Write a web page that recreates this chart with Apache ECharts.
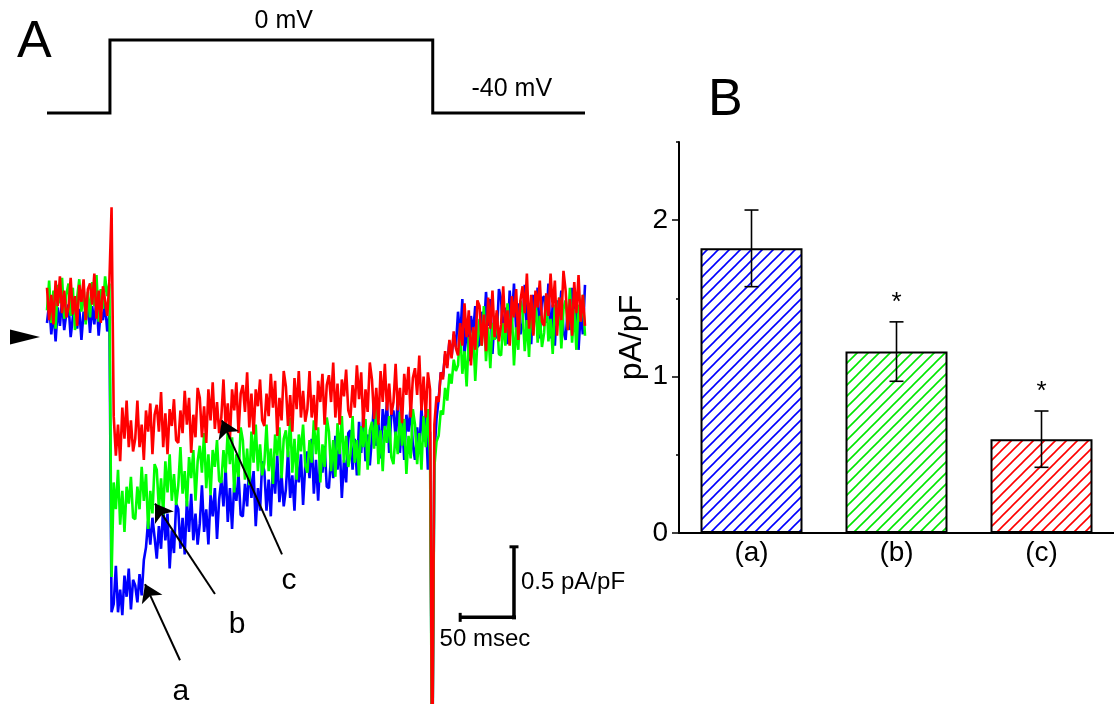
<!DOCTYPE html>
<html><head><meta charset="utf-8">
<script src="https://cdn.jsdelivr.net/npm/echarts@6/dist/echarts.min.js"></script>
<style>html,body{margin:0;padding:0;background:#fff}#chart{width:1114px;height:704px}</style>
</head><body><div id="chart"></div>
<script>
// ---------- DATA ----------
const SAMPLE_MS = 2; // traces sampled every 2 ms, starting at t = 0

// Current traces (pA/pF)
const traceBlue = [
0.10,0.24,0.02,0.19,-0.03,0.21,0.08,0.26,0.05,0.17,0.23,0.00,0.14,0.27,0.06,0.20,-0.02,0.18,0.11,0.25,0.03,0.22,0.09,0.28,0.01,0.19,0.12,0.24,0.04,0.15,
-1.95,
-1.89,-1.62,-1.95,-1.79,-1.97,-1.69,-1.84,-1.64,-1.93,-1.72,
-1.76,-1.88,-1.68,-1.83,-1.58,-1.49,-1.30,-1.47,-1.28,-1.42,
-1.57,-1.34,-1.50,-1.20,-1.44,-1.25,-1.64,-1.37,-1.53,-1.18,
-1.22,-1.50,-1.28,-1.54,-1.16,-1.38,-1.11,-1.44,-1.25,-1.47,
-1.32,-1.05,-1.38,-1.22,-1.47,-1.12,-1.27,-1.07,-1.43,-1.15,
-1.01,-1.20,-0.92,-1.31,-1.07,-1.36,-1.04,-1.16,-0.97,-1.26,
-1.27,-1.04,-1.20,-0.90,-1.14,-0.95,-1.34,-1.07,-1.23,-0.88,
-0.95,-1.23,-1.01,-1.27,-0.89,-1.11,-0.84,-1.17,-0.98,-1.20,
-1.08,-0.81,-1.14,-0.98,-1.23,-0.88,-1.03,-0.83,-1.19,-0.91,
-0.81,-1.00,-0.72,-1.11,-0.87,-1.16,-0.84,-0.96,-0.77,-1.06,
-1.07,-0.84,-1.00,-0.70,-0.94,-0.75,-1.14,-0.87,-1.03,-0.68,
-0.66,-0.94,-0.72,-0.98,-0.60,-0.82,-0.55,-0.88,-0.69,-0.91,
-0.71,-0.44,-0.77,-0.61,-0.86,-0.51,-0.66,-0.46,-0.82,-0.54,
-0.52,-0.71,-0.43,-0.82,-0.58,-0.87,-0.55,-0.67,-0.48,-0.77,
-0.87,-0.64,-0.80,-0.50,-0.74,-0.55,-0.94,-0.67,
-3.2,
-0.84,-0.58,-0.44,-0.25,-0.28,-0.12,-0.20,-0.03,-0.14,0.02,-0.07,
0.18,-0.01,0.27,-0.12,0.12,-0.17,0.15,0.03,0.22,-0.07,
-0.05,0.18,0.02,0.32,0.08,0.27,-0.12,0.15,-0.01,0.34,
0.27,-0.01,0.21,-0.05,0.33,0.11,0.38,0.05,0.24,0.02,
0.10,0.37,0.04,0.20,-0.05,0.30,0.15,0.35,-0.01,0.27,
0.29,0.10,0.38,-0.01,0.23,-0.06,0.26,0.14,0.33,0.04,
-0.02,0.21,0.05,0.35,0.11,0.30,-0.09,0.18,0.02,0.37
];
const traceGreen = [
0.19,0.40,0.10,0.33,0.06,0.37,0.24,0.42,0.13,0.30,0.38,0.15,0.35,0.05,0.28,0.41,0.18,0.36,0.09,0.32,0.14,0.39,0.22,0.44,0.11,0.34,0.20,0.43,0.29,0.38,
-1.70,
-1.03,-1.22,-0.94,-1.33,-1.09,-1.38,-1.06,-1.18,-0.99,-1.28,
-1.29,-1.06,-1.22,-0.92,-1.16,-0.97,-1.36,-1.09,-1.25,-0.90,
-0.94,-1.22,-1.00,-1.26,-0.88,-1.10,-0.83,-1.16,-0.97,-1.19,
-1.05,-0.78,-1.11,-0.95,-1.20,-0.85,-1.00,-0.80,-1.16,-0.88,
-0.77,-0.96,-0.68,-1.07,-0.83,-1.12,-0.80,-0.92,-0.73,-1.02,
-1.03,-0.80,-0.96,-0.66,-0.90,-0.71,-1.10,-0.83,-0.99,-0.64,
-0.73,-1.01,-0.79,-1.05,-0.67,-0.89,-0.62,-0.95,-0.76,-0.98,
-0.89,-0.62,-0.95,-0.79,-1.04,-0.69,-0.84,-0.64,-1.00,-0.72,
-0.66,-0.85,-0.57,-0.96,-0.72,-1.01,-0.69,-0.81,-0.62,-0.91,
-0.96,-0.73,-0.89,-0.59,-0.83,-0.64,-1.03,-0.76,-0.92,-0.57,
-0.67,-0.95,-0.73,-0.99,-0.61,-0.83,-0.56,-0.89,-0.70,-0.92,
-0.83,-0.56,-0.89,-0.73,-0.98,-0.63,-0.78,-0.58,-0.94,-0.66,
-0.60,-0.79,-0.51,-0.90,-0.66,-0.95,-0.63,-0.75,-0.56,-0.85,
-0.90,-0.67,-0.83,-0.53,-0.77,-0.58,-0.97,-0.70,-0.86,-0.51,
-0.62,-0.90,-0.68,-0.94,-0.56,-0.78,-0.51,-0.84,
-3.2,
-0.92,-0.74,-0.70,-0.52,-0.55,-0.36,-0.45,-0.26,-0.33,-0.16,-0.24,
-0.20,0.07,-0.26,-0.10,-0.35,0.00,-0.15,0.05,-0.31,-0.03,
0.13,-0.06,0.22,-0.17,0.07,-0.22,0.10,-0.02,0.17,-0.12,
-0.13,0.10,-0.06,0.24,0.00,0.19,-0.20,0.07,-0.09,0.26,
0.18,-0.10,0.12,-0.14,0.24,0.02,0.29,-0.04,0.15,-0.07,
0.03,0.30,-0.03,0.13,-0.12,0.23,0.08,0.28,-0.08,0.20,
0.26,0.07,0.35,-0.04,0.20,-0.09,0.23,0.11,0.30,0.01
];
const traceRed = [
0.35,0.12,0.30,0.09,0.40,0.22,0.43,0.17,0.33,0.14,0.21,0.42,0.16,0.29,0.08,0.37,0.25,0.41,0.12,0.34,0.38,0.23,0.45,0.13,0.33,0.10,0.36,0.26,0.15,0.40,
0.92,
-0.56,-0.84,-0.62,-0.88,-0.50,-0.72,-0.45,-0.78,-0.59,-0.81,
-0.72,-0.45,-0.78,-0.62,-0.87,-0.52,-0.67,-0.47,-0.83,-0.55,
-0.48,-0.67,-0.39,-0.78,-0.54,-0.83,-0.51,-0.63,-0.44,-0.73,
-0.75,-0.52,-0.68,-0.38,-0.62,-0.43,-0.82,-0.55,-0.71,-0.36,
-0.43,-0.71,-0.49,-0.75,-0.37,-0.59,-0.32,-0.65,-0.46,-0.68,
-0.57,-0.30,-0.63,-0.47,-0.72,-0.37,-0.52,-0.32,-0.68,-0.40,
-0.34,-0.53,-0.25,-0.64,-0.40,-0.69,-0.37,-0.49,-0.30,-0.59,
-0.63,-0.40,-0.56,-0.26,-0.50,-0.31,-0.70,-0.43,-0.59,-0.24,
-0.35,-0.63,-0.41,-0.67,-0.29,-0.51,-0.24,-0.57,-0.38,-0.60,
-0.51,-0.24,-0.57,-0.41,-0.66,-0.31,-0.46,-0.26,-0.62,-0.34,
-0.27,-0.46,-0.18,-0.57,-0.33,-0.62,-0.30,-0.42,-0.23,-0.52,
-0.57,-0.34,-0.50,-0.20,-0.44,-0.25,-0.64,-0.37,-0.53,-0.18,
-0.30,-0.58,-0.36,-0.62,-0.24,-0.46,-0.19,-0.52,-0.33,-0.55,
-0.46,-0.19,-0.52,-0.36,-0.61,-0.26,-0.41,-0.21,-0.57,-0.29,
-0.22,-0.41,-0.13,-0.52,-0.28,-0.57,-0.25,-0.37,
-3.2,
-0.62,-0.42,-0.46,-0.25,-0.30,-0.10,-0.22,-0.02,-0.15,0.04,-0.08,
-0.13,0.10,-0.06,0.24,0.00,0.19,-0.20,0.07,-0.09,0.26,
0.22,-0.06,0.16,-0.10,0.28,0.06,0.33,0.00,0.19,-0.03,
0.09,0.36,0.03,0.19,-0.06,0.29,0.14,0.34,-0.02,0.26,
0.36,0.17,0.45,0.06,0.30,0.01,0.33,0.21,0.40,0.11,
0.08,0.31,0.15,0.45,0.21,0.40,0.01,0.28,0.12,0.47,
0.33,0.05,0.27,0.01,0.39,0.17,0.44,0.11,0.30,0.08
];

// Voltage protocol (ms, mV)
const protocolTimes = [0, 58.5, 58.5, 358.5, 358.5, 500];
const protocolMv    = [-40, -40, 0, 0, -40, -40];
const protocolLabels = ['0 mV', '-40 mV'];
const protocolLabelTimes = [220, 432];
const protocolLabelMv = [0, -40];

// Arrow annotations (ms, pA/pF)
const arrowNames   = ['a', 'b', 'c'];
const arrowFromT   = [123.6, 156.1, 218.4];
const arrowFromV   = [-2.29, -1.82, -1.54];
const arrowToT     = [91.1, 100.4, 162.6];
const arrowToV     = [-1.75, -1.18, -0.59];
const arrowLabelT  = [124.5, 176.6, 224.9];
const arrowLabelV  = [-2.51, -2.04, -1.73];

// Scale bar
const scaleBarT0 = 434, scaleBarV0 = -1.986;
const scaleBarMs = 50, scaleBarPApF = 0.5;

// Panel B
const barCategories = ['(a)', '(b)', '(c)'];
const barValues = [1.82, 1.16, 0.60];
const barErrors = [0.245, 0.19, 0.18];
const barSignificant = [false, true, true];
const barYMajorTicks = [0, 1, 2];

// ---------- CHART ----------
const FONT = '"Liberation Sans", Arial, Helvetica, sans-serif';
const chart = echarts.init(document.getElementById('chart'));
const toXY = arr => arr.map((v, i) => [i * SAMPLE_MS, v]);

function hatch(color) {
  const s = 11;
  const c = document.createElement('canvas');
  c.width = s; c.height = s;
  const g = c.getContext('2d');
  g.fillStyle = '#fff'; g.fillRect(0, 0, s, s);
  g.strokeStyle = color; g.lineWidth = 1.6;
  g.beginPath();
  g.moveTo(-1, s + 1); g.lineTo(s + 1, -1);
  g.moveTo(-s / 2 - 1, s / 2 + 1); g.lineTo(s / 2 + 1, -s / 2 - 1);
  g.moveTo(s / 2 - 1, s * 1.5 + 1); g.lineTo(s * 1.5 + 1, s / 2 - 1);
  g.stroke();
  return { image: c, repeat: 'repeat' };
}
const barColors = ['#0000ff', '#00e600', '#ff0000'];

const traceLine = (data, color) => ({
  type: 'line', xAxisIndex: 1, yAxisIndex: 1, data: toXY(data),
  showSymbol: false, symbol: 'none', clip: true, sampling: null,
  lineStyle: { color, width: 2.6 }, z: 2, silent: true
});
const SOLID = { color: '#000', opacity: 1 };

const option = {
  animation: false,
  backgroundColor: '#fff',
  textStyle: { fontFamily: FONT },
  title: [
    { text: 'A', left: 12, top: 12, textStyle: { fontFamily: FONT, fontSize: 52, fontWeight: 'normal', color: '#000' } },
    { text: 'B', left: 703, top: 70, textStyle: { fontFamily: FONT, fontSize: 52, fontWeight: 'normal', color: '#000' } }
  ],
  grid: [
    { left: 47, top: 40, width: 538, height: 73 },
    { left: 47, top: 196, width: 538, height: 511.2 },
    { left: 679, top: 142, right: -8, bottom: 171 }
  ],
  xAxis: [
    { gridIndex: 0, type: 'value', min: 0, max: 500, show: false },
    { gridIndex: 1, type: 'value', min: 0, max: 500, show: false },
    { gridIndex: 2, type: 'category', data: barCategories,
      axisLine: { lineStyle: { color: '#000', width: 2 } },
      axisTick: { show: false },
      axisLabel: { color: '#000', fontSize: 28, fontFamily: FONT, margin: 6 } }
  ],
  yAxis: [
    { gridIndex: 0, type: 'value', min: -40, max: 0, show: false },
    { gridIndex: 1, type: 'value', min: -2.6, max: 1.0, show: false },
    { gridIndex: 2, type: 'value', min: 0, max: 2.5, interval: 0.5, position: 'left',
      axisLine: { show: true, lineStyle: { color: '#000', width: 2 } },
      axisTick: { show: true, length: 3, lineStyle: { color: '#000', width: 1.5 } },
      axisLabel: { show: false }, splitLine: { show: false } },
    { gridIndex: 2, type: 'value', min: 0, max: 2.5, interval: 0.5, position: 'left',
      name: 'pA/pF', nameLocation: 'middle', nameGap: 31,
      nameTextStyle: { color: '#000', fontSize: 32, fontFamily: FONT },
      axisLine: { show: false },
      axisTick: { show: true, length: 7, customValues: barYMajorTicks, lineStyle: { color: '#000', width: 1.5 } },
      axisLabel: { show: true, customValues: barYMajorTicks, color: '#000', fontSize: 28, fontFamily: FONT, margin: 11 },
      splitLine: { show: false } }
  ],
  series: [
    { type: 'line', xAxisIndex: 0, yAxisIndex: 0,
      data: protocolTimes.map((t, i) => [t, protocolMv[i]]),
      showSymbol: false, symbol: 'none', clip: false,
      lineStyle: { color: '#000', width: 3, join: 'miter' } },
    { type: 'scatter', xAxisIndex: 0, yAxisIndex: 0, symbolSize: 0, clip: false, silent: true, itemStyle: SOLID,
      data: protocolLabels.map((s, i) => ({ value: [protocolLabelTimes[i], protocolLabelMv[i]], name: s,
        label: { distance: i === 0 ? 6 : 11 } })),
      label: { show: true, position: 'top', formatter: p => p.name, color: '#000', fontSize: 25, fontFamily: FONT } },

    traceLine(traceBlue, '#0000ff'),
    traceLine(traceGreen, '#00ff00'),
    traceLine(traceRed, '#ff0000'),

    { type: 'lines', coordinateSystem: 'cartesian2d', xAxisIndex: 1, yAxisIndex: 1, z: 10, silent: true,
      symbol: ['none', 'arrow'], symbolSize: 17,
      lineStyle: { color: '#000', width: 2, opacity: 1, curveness: 0 },
      data: arrowNames.map((n, i) => ({ coords: [[arrowFromT[i], arrowFromV[i]], [arrowToT[i], arrowToV[i]]] })) },
    { type: 'scatter', xAxisIndex: 1, yAxisIndex: 1, symbolSize: 0, clip: false, silent: true, z: 10, itemStyle: SOLID,
      data: arrowNames.map((n, i) => ({ value: [arrowLabelT[i], arrowLabelV[i]], name: n })),
      label: { show: true, position: [0, 0], align: 'center', verticalAlign: 'middle', formatter: p => p.name, color: '#000', fontSize: 30, fontFamily: FONT } },

    // zero-current marker
    { type: 'scatter', xAxisIndex: 1, yAxisIndex: 1, clip: false, silent: true, z: 10,
      data: [[0, 0]], symbol: 'triangle', symbolSize: [15, 30], symbolRotate: -90, symbolOffset: [-22, 0],
      itemStyle: SOLID },

    // scale bar
    { type: 'line', xAxisIndex: 1, yAxisIndex: 1, clip: false, silent: true, z: 10,
      data: [
        { value: [scaleBarT0 - scaleBarMs, scaleBarV0], symbolSize: [3, 9] },
        { value: [scaleBarT0, scaleBarV0], symbolSize: [4, 4] },
        { value: [scaleBarT0, scaleBarV0 + scaleBarPApF], symbolSize: [9, 3] }
      ],
      symbol: 'rect', showSymbol: true,
      itemStyle: SOLID, lineStyle: { color: '#000', width: 3.5 } },
    { type: 'scatter', xAxisIndex: 1, yAxisIndex: 1, symbolSize: 0, clip: false, silent: true, z: 10, itemStyle: SOLID,
      data: [
        { value: [scaleBarT0, scaleBarV0 + scaleBarPApF / 2], name: scaleBarPApF + ' pA/pF', label: { align: 'left', offset: [7, 0] } },
        { value: [scaleBarT0 - scaleBarMs / 2 - 2, scaleBarV0 - 0.155], name: scaleBarMs + ' msec', label: { align: 'center' } }
      ],
      label: { show: true, position: [0, 0], verticalAlign: 'middle', formatter: p => p.name, color: '#000', fontSize: 24, fontFamily: FONT } },

    // Panel B bars
    { type: 'bar', xAxisIndex: 2, yAxisIndex: 2, barWidth: 102, silent: true,
      data: barValues.map((v, i) => ({ value: v, itemStyle: { color: hatch(barColors[i]), borderColor: '#000', borderWidth: 2 } })) },
    { type: 'custom', xAxisIndex: 2, yAxisIndex: 2, z: 5, silent: true,
      data: barValues.map((v, i) => [i, v, barErrors[i], barSignificant[i] ? 1 : 0]),
      encode: { x: 0, y: 1 },
      renderItem(params, api) {
        const i = api.value(0), v = api.value(1), e = api.value(2), s = api.value(3);
        const top = api.coord([i, v + e]), bot = api.coord([i, v - e]);
        const hw = 7, st = { stroke: '#000', lineWidth: 1.6 };
        const ch = [
          { type: 'line', shape: { x1: top[0], y1: top[1], x2: bot[0], y2: bot[1] }, style: st },
          { type: 'line', shape: { x1: top[0] - hw, y1: top[1], x2: top[0] + hw, y2: top[1] }, style: st },
          { type: 'line', shape: { x1: bot[0] - hw, y1: bot[1], x2: bot[0] + hw, y2: bot[1] }, style: st }
        ];
        if (s) ch.push({ type: 'text', style: { text: '*', x: top[0], y: top[1] - 6, align: 'center', verticalAlign: 'bottom', fontSize: 26, fontFamily: FONT, fill: '#000' } });
        return { type: 'group', children: ch };
      } }
  ]
};
chart.setOption(option);
</script></body></html>
